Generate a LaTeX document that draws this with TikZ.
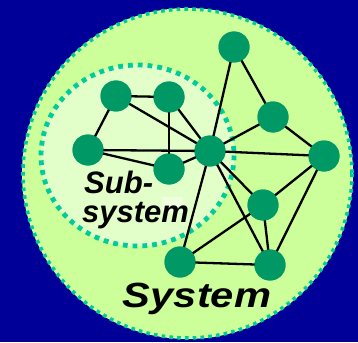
\documentclass[tikz,border=0pt]{standalone}
\usepackage{fontspec}
\setmainfont{Liberation Sans}
\definecolor{bgblue}{HTML}{000099}
\definecolor{sysfill}{HTML}{CCFF99}
\definecolor{subfill}{HTML}{E3FFC9}
\definecolor{patchfill}{HTML}{EEFFDD}
\definecolor{dotteal}{HTML}{00CC99}
\definecolor{nodegreen}{HTML}{009966}
\tikzset{
  vertex/.style={circle, fill=nodegreen, minimum size=31pt, inner sep=0pt},
  link/.style={line width=2.3pt, black},
  label text/.style={text=black, inner sep=0pt}
}
\begin{document}
\begin{tikzpicture}[x=1pt, y=-1pt]
  % background
  \fill[bgblue] (0,0) rectangle (358,342);
  \useasboundingbox (0,0) rectangle (358,342);
  % system boundary
  \fill[sysfill] (187.5,173.5) circle (165.5);
  \draw[dotteal, line width=3.6pt, dash pattern=on 3.6pt off 4.2pt] (187.5,173.5) circle (164.5);
  % subsystem boundary
  \fill[subfill] (137.5,155.5) ellipse (97 and 91);
  \draw[dotteal, line width=4.8pt, dash pattern=on 4.8pt off 5pt] (137.5,155.5) ellipse (96.5 and 90.5);
  \fill[patchfill] (162,197) rectangle (183,213);
  % vertices
  \node[vertex] (a) at (234,47) {};
  \node[vertex] (b) at (116,96) {};
  \node[vertex] (c) at (169,97) {};
  \node[vertex] (d) at (88,150) {};
  \node[vertex] (e) at (169,169) {};
  \node[vertex] (f) at (210,151) {};
  \node[vertex] (g) at (273,117) {};
  \node[vertex] (h) at (324,156) {};
  \node[vertex] (i) at (263,205) {};
  \node[vertex] (j) at (180,262) {};
  \node[vertex] (k) at (270,265) {};
  % links
  \foreach \u/\v in {b/c, b/d, b/f, c/e, c/f, d/f, d/e, e/f, f/a, f/g, f/h, a/g, g/h,
                     f/j, f/i, f/k, h/i, h/k, i/k, i/j, j/k}
    \draw[link] (\u.center) -- (\v.center);
  % vertices drawn again over the links
  \foreach \n in {a,b,c,d,e,f,g,h,i,j,k}
    \fill[nodegreen] (\n) circle (15.5);
  % text labels
  \node[label text, font=\fontsize{31}{31}\selectfont\bfseries\itshape, anchor=base west] (sub) at (84,193) {Sub-};
  \node[label text, font=\fontsize{31}{31}\selectfont\bfseries\itshape, anchor=base west] (sys) at (82,222) {system};
  \node[label text, font=\fontsize{35}{35}\selectfont\bfseries\itshape, anchor=base, xscale=1.19] (system) at (197,307) {System};
\end{tikzpicture}
\end{document}
